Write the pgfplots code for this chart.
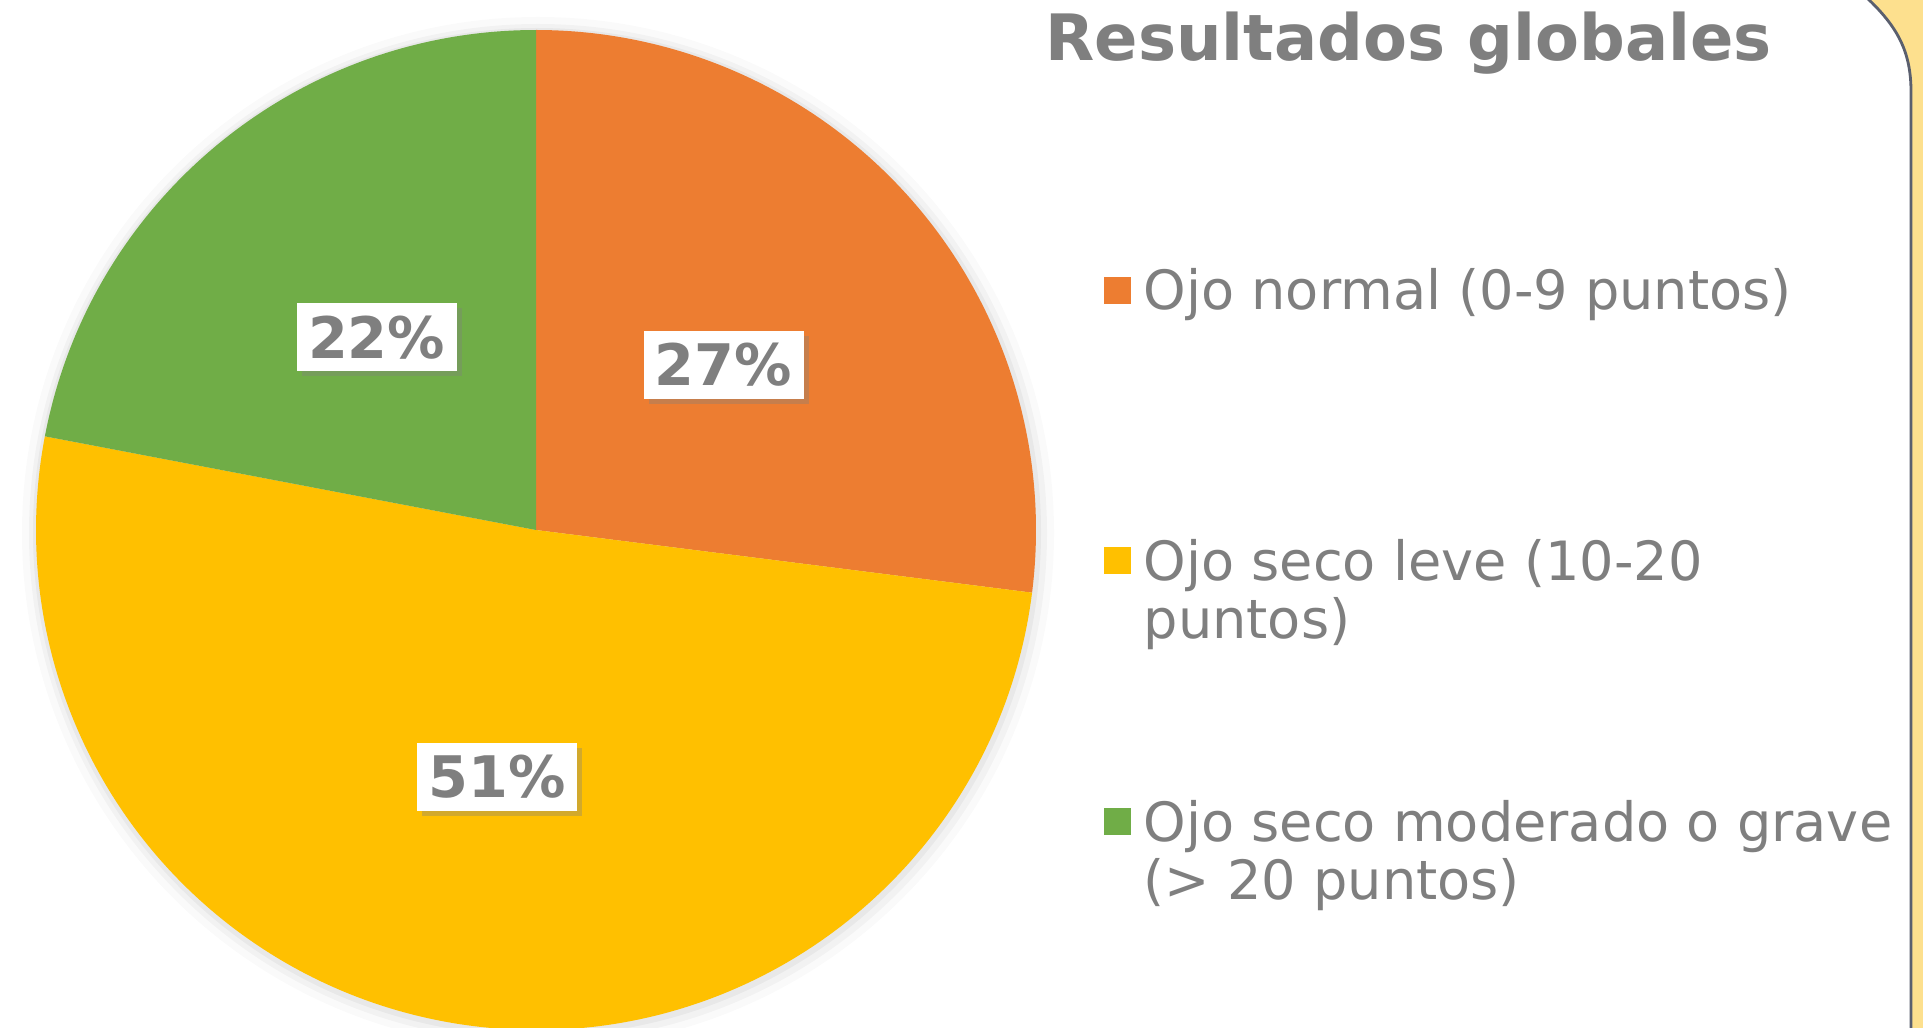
\documentclass[border=0pt]{standalone}
\usepackage{pgfplots}
\pgfplotsset{compat=1.18}
\usepackage{pgfplotstable}
\usepackage{fontspec}
\setmainfont{DejaVu Sans}
\usetikzlibrary{shadows}
\definecolor{cOrange}{HTML}{ED7D31}
\definecolor{cYellow}{HTML}{FFC000}
\definecolor{cGreen}{HTML}{70AD47}
\definecolor{txtgray}{HTML}{7F7F7F}
\definecolor{panel}{RGB}{253,224,142}
\definecolor{panelline}{RGB}{90,95,110}

\pgfplotstableread{
value color
27 cOrange
51 cYellow
22 cGreen
}\piedata

\def\cx{5.36}
\def\cy{4.97}
\def\R{5.0}

\tikzset{labelbox/.style={fill=white, text=txtgray, font=\fontsize{16.3}{19}\selectfont\bfseries,
  minimum width=1.6cm, minimum height=0.68cm, inner sep=0pt,
  drop shadow={shadow xshift=0.05cm, shadow yshift=-0.05cm, opacity=0.35}}}
\tikzset{legtext/.style={anchor=base west, inner sep=0pt, text=txtgray, font=\fontsize{15.4}{18}\selectfont}}

\begin{document}
\begin{tikzpicture}
\useasboundingbox (0,0) rectangle (19.23,10.27);
\clip (0,0) rectangle (19.23,10.27);
\fill[white] (0,0) rectangle (19.23,10.27);
% right panel
\fill[panel] (18.66,10.3) .. controls (18.98,10.0) and (19.11,9.75) .. (19.11,9.35) -- (19.11,-0.1) -- (19.4,-0.1) -- (19.4,10.4) -- cycle;
\draw[panelline, line width=0.8pt] (18.66,10.3) .. controls (18.98,10.0) and (19.11,9.75) .. (19.11,9.35) -- (19.11,-0.1);
\begin{axis}[at={(0,0)}, anchor=south west, x=1cm, y=1cm,
  xmin=0, xmax=19.23, ymin=0, ymax=10.27, hide axis, clip=false]
\pgfplotsextra{%
  % soft shadow
  \fill[black, opacity=0.02] (axis cs:\cx+0.02,\cy-0.03) circle[radius=\R cm+0.16cm];
  \fill[black, opacity=0.03] (axis cs:\cx+0.02,\cy-0.03) circle[radius=\R cm+0.09cm];
  \fill[black, opacity=0.04] (axis cs:\cx+0.01,\cy-0.02) circle[radius=\R cm+0.04cm];
  \pgfplotstablegetrowsof{\piedata}%
  \pgfmathtruncatemacro\lastrow{\pgfplotsretval-1}%
  \xdef\startang{90}%
  \foreach \i in {0,...,\lastrow}{%
    \pgfplotstablegetelem{\i}{value}\of{\piedata}\let\val\pgfplotsretval
    \pgfplotstablegetelem{\i}{color}\of{\piedata}\let\col\pgfplotsretval
    \pgfmathsetmacro\endang{\startang-3.6*\val}%
    \fill[\col] (axis cs:\cx,\cy) -- ++(\startang:\R cm) arc[start angle=\startang, end angle=\endang, radius=\R cm] -- cycle;
    \xdef\startang{\endang}%
  }%
  \xdef\startang{90}%
  \foreach \i in {0,...,\lastrow}{%
    \pgfplotstablegetelem{\i}{value}\of{\piedata}\let\val\pgfplotsretval
    \pgfmathsetmacro\endang{\startang-3.6*\val}%
    \pgfmathsetmacro\midang{(\startang+\endang)/2}%
    \path (axis cs:\cx,\cy) ++(\midang:2.5cm) node[labelbox]{\val\%};
    \xdef\startang{\endang}%
  }%
}
% title
\node[anchor=base west, inner sep=0pt, text=txtgray, font=\fontsize{18.2}{21}\selectfont\bfseries] at (axis cs:10.45,9.66) {Resultados globales};
% legend
\fill[cOrange] (axis cs:11.04,7.23) rectangle (axis cs:11.31,7.50);
\node[legtext] at (axis cs:11.43,7.17) {Ojo normal (0-9 puntos)};
\fill[cYellow] (axis cs:11.04,4.53) rectangle (axis cs:11.31,4.80);
\node[legtext] at (axis cs:11.43,4.47) {Ojo seco leve (10-20};
\node[legtext] at (axis cs:11.43,3.89) {puntos)};
\fill[cGreen] (axis cs:11.04,1.92) rectangle (axis cs:11.31,2.19);
\node[legtext] at (axis cs:11.43,1.86) {Ojo seco moderado o grave};
\node[legtext] at (axis cs:11.43,1.28) {(> 20 puntos)};
\end{axis}
\end{tikzpicture}
\end{document}
